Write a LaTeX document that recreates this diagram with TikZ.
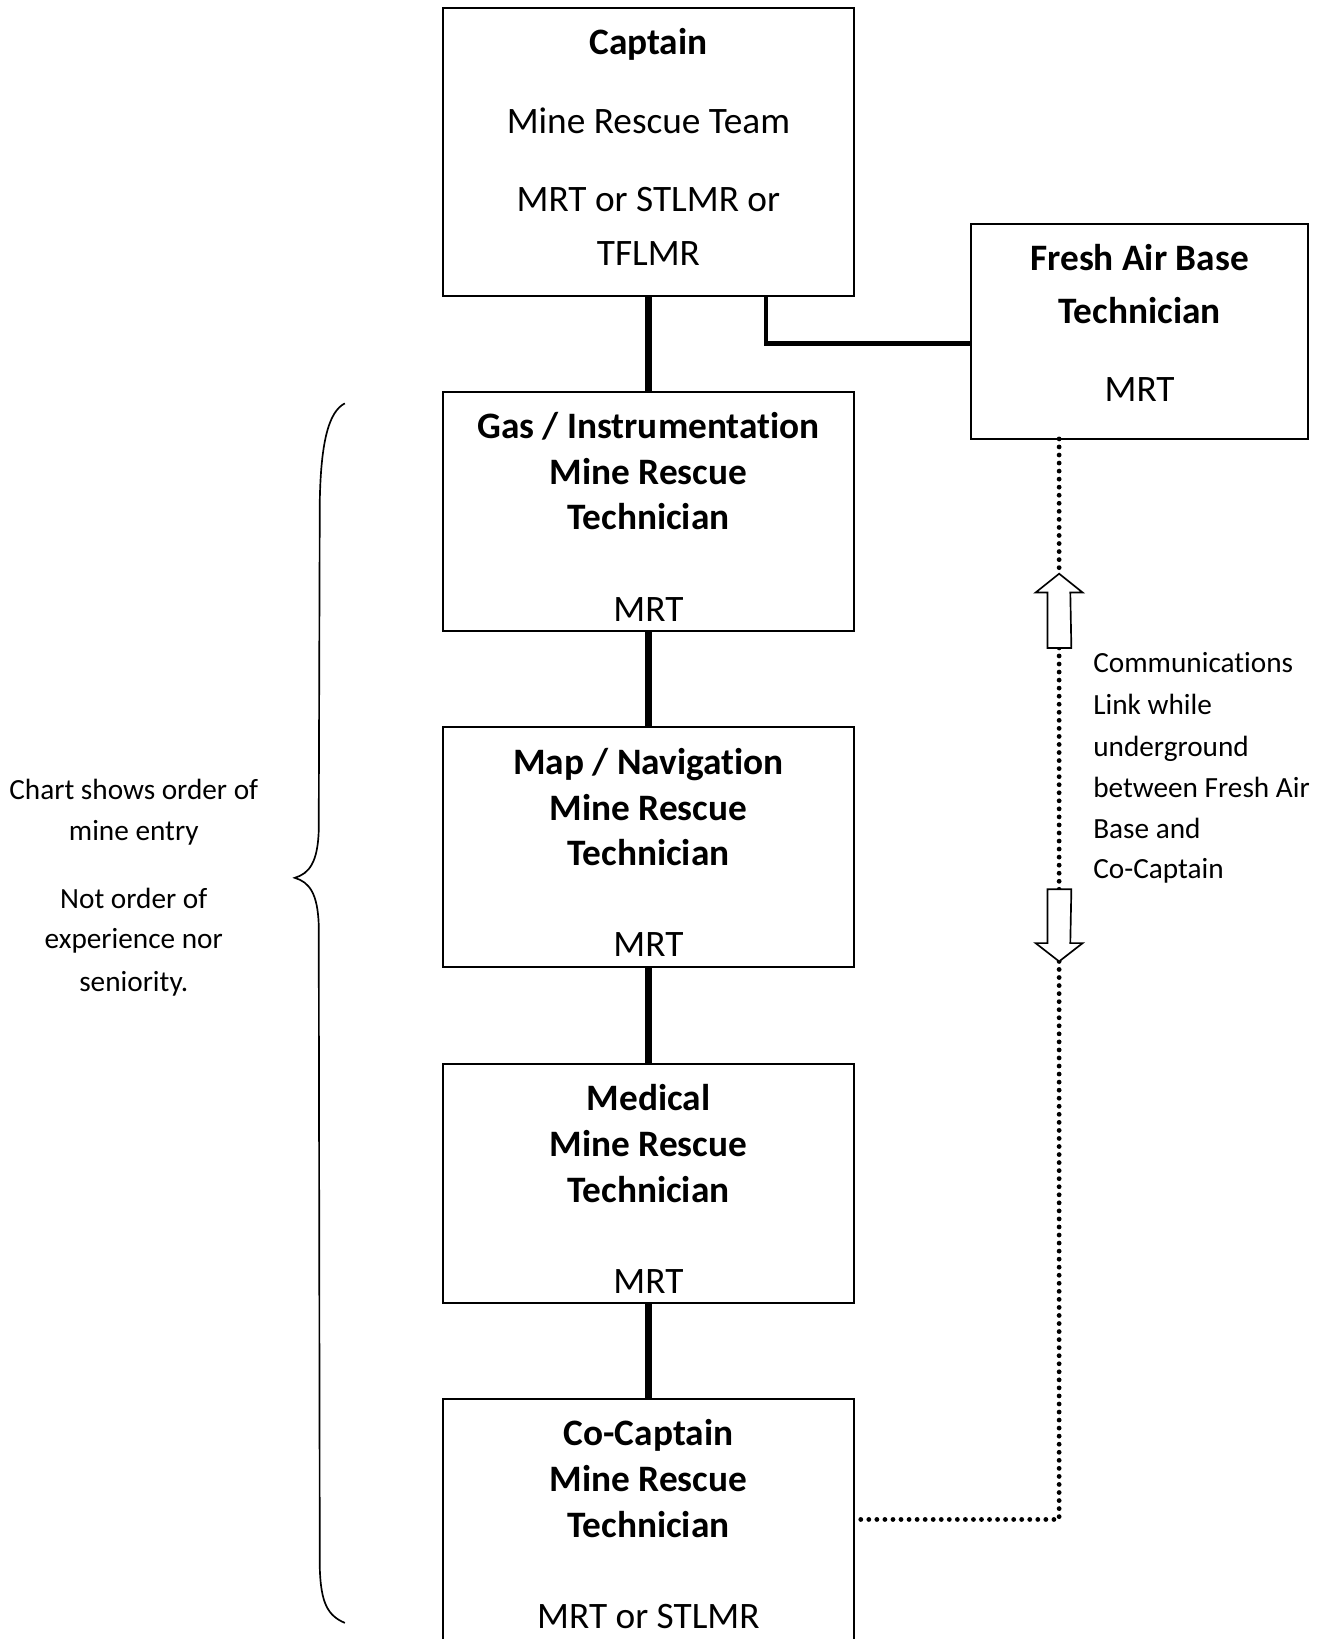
\documentclass[tikz,border=0pt]{standalone}
\usepackage{fontspec}
\setmainfont{Carlito}[Ligatures=NoCommon]
\usetikzlibrary{calc}
\tikzset{
  box/.style={draw, line width=1.9pt, outer sep=0pt, inner sep=0pt, anchor=north west},
  big/.style={font=\fontsize{35.7}{42}\selectfont, anchor=base, inner sep=0pt},
  bigb/.style={font=\fontsize{35.7}{42}\selectfont\bfseries, anchor=base, inner sep=0pt},
  small/.style={font=\fontsize{28}{34}\selectfont, anchor=base, inner sep=0pt},
  smallw/.style={font=\fontsize{28}{34}\selectfont, anchor=base west, inner sep=0pt},
  thick link/.style={line width=7pt},
  fab link/.style={line width=4.5pt},
  dotline/.style={line width=4.6pt, dash pattern=on 0pt off 7.7pt, line cap=round},
  hollowarrow/.style={draw, line width=1.6pt, fill=white, line join=miter},
  bracepath/.style={line width=1.6pt}
}
\begin{document}
\begin{tikzpicture}[x=1pt,y=-1pt]
\clip (0,0) rectangle (1270.8,1568.4);
\fill[white] (0,0) rectangle (1270.8,1568.4);

% boxes
\node[box, minimum width=393pt, minimum height=275pt] (cap) at (424,8) {};
\node[box, minimum width=323pt, minimum height=206pt] (fab) at (929,214) {};
\node[box, minimum width=393pt, minimum height=229pt] (gas) at (424,375) {};
\node[box, minimum width=393pt, minimum height=229pt] (map) at (424,696) {};
\node[box, minimum width=393pt, minimum height=229pt] (med) at (424,1018) {};
\node[box, minimum width=393pt, minimum height=300pt] (coc) at (424,1339) {};

% captain text
\node[bigb] (capt1) at (620.5,52.6) {Captain};
\node[big] (capt2) at (620.5,127.6) {Mine Rescue Team};
\node[big] (capt3) at (620.5,202.6) {MRT or STLMR or};
\node[big] (capt4) at (620.5,253.6) {TFLMR};

% fresh air base text
\node[bigb] (fabt1) at (1090.5,258.5) {Fresh Air Base};
\node[bigb] (fabt2) at (1090.5,309.5) {Technician};
\node[big] (fabt3) at (1090.5,384.5) {MRT};

% gas
\node[bigb] (gast1) at (620.5,419.5) {Gas / Instrumentation};
\node[bigb] (gast2) at (620.5,463.5) {Mine Rescue};
\node[bigb] (gast3) at (620.5,506.5) {Technician};
\node[big] (gast4) at (620.5,594.5) {MRT};

% map
\node[bigb] (mapt1) at (620.5,741.5) {Map / Navigation};
\node[bigb] (mapt2) at (620.5,785.5) {Mine Rescue};
\node[bigb] (mapt3) at (620.5,828.5) {Technician};
\node[big] (mapt4) at (620.5,915.5) {MRT};

% medical
\node[bigb] (medt1) at (620.5,1062.5) {Medical};
\node[bigb] (medt2) at (620.5,1106.5) {Mine Rescue};
\node[bigb] (medt3) at (620.5,1150.5) {Technician};
\node[big] (medt4) at (620.5,1237.5) {MRT};

% co-captain
\node[bigb] (coct1) at (620.5,1383.5) {Co-Captain};
\node[bigb] (coct2) at (620.5,1427.5) {Mine Rescue};
\node[bigb] (coct3) at (620.5,1471.5) {Technician};
\node[big] (coct4) at (620.5,1558.5) {MRT or STLMR};

% vertical thick connectors
\draw[thick link] (cap.south) -- (gas.north);
\draw[thick link] (gas.south) -- (map.north);
\draw[thick link] (map.south) -- (med.north);
\draw[thick link] (med.south) -- (coc.north);

% captain - fresh air base connector
\coordinate (capfab) at (733,283);
\coordinate (fabjoin) at (929,329);
\draw[fab link, line join=miter] (capfab) |- (fabjoin);

% communications link
\coordinate (fabdot) at (1013.5,420);
\coordinate (upTip) at (1013.5,549);
\coordinate (upBase) at (1013.5,620);
\coordinate (dnTop) at (1013.5,851);
\coordinate (dnTip) at (1013.5,920);
\coordinate (corner) at (1013.5,1454);
\coordinate (cocdot) at (818,1454);

\draw[dotline] (fabdot) -- (upTip);
\draw[dotline] (upBase) -- (dnTop);
\draw[dotline] (dnTip) -- (corner) -- (cocdot);

\draw[hollowarrow] (upTip) -- ++(22.5,18) -- ++(-11.8,0) -- (1025.2,620) -- (1002.3,620) -- (1002.3,567) -- ++(-11.3,0) -- cycle;
\draw[hollowarrow] (dnTip) -- ++(22.5,-17.5) -- ++(-11.8,0) -- (1025.2,851) -- (1002.3,851) -- (1002.3,902.5) -- ++(-11.3,0) -- cycle;

\node[smallw] (c1) at (1046,644) {Communications};
\node[smallw] (c2) at (1046,684) {Link while};
\node[smallw] (c3) at (1046,724) {underground};
\node[smallw] (c4) at (1046,763) {between Fresh Air};
\node[smallw] (c5) at (1046,802) {Base and};
\node[smallw] (c6) at (1046,841) {Co-Captain};

% brace
\draw[bracepath] (330,386) .. controls (314,394) and (307,425) .. (306,480)
  -- (305,795) .. controls (304,825) and (296,836) .. (282,840)
  .. controls (296,844) and (304,855) .. (305,885)
  -- (306,1500) .. controls (307,1535) and (314,1546) .. (330,1553);

% left notes
\node[small] (n1) at (128,765) {Chart shows order of};
\node[small] (n2) at (128,804) {mine entry};
\node[small] (n3) at (128,869) {Not order of};
\node[small] (n4) at (128,908) {experience nor};
\node[small] (n5) at (128,949) {seniority.};
\end{tikzpicture}
\end{document}
